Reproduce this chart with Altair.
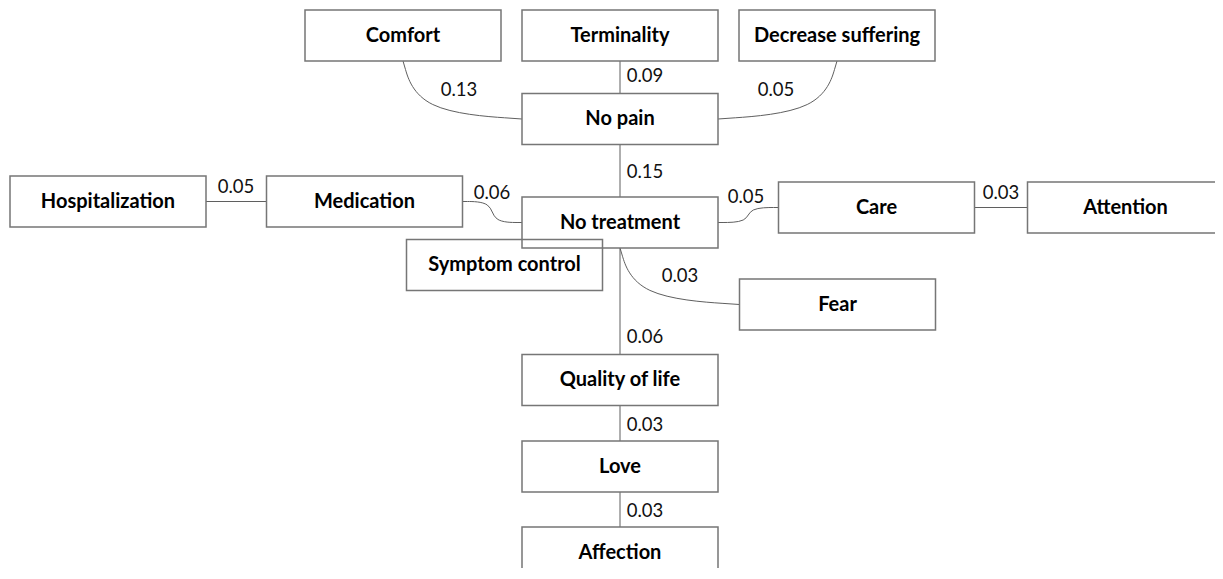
import altair as alt
import pandas as pd

# ---- data -------------------------------------------------------------
nodes = ["Comfort", "Terminality", "Decrease suffering", "No pain",
         "Hospitalization", "Medication", "No treatment", "Care", "Attention",
         "Symptom control", "Fear", "Quality of life", "Love", "Affection"]
# layout coordinates of node centres (pixel space of the reference)
node_x = [403, 620, 837, 620, 108, 364.5, 620, 876.5, 1125.5, 504.5, 837.5, 620, 620, 620]
node_y = [35.5, 35.5, 35.5, 119, 201.5, 201.5, 222.5, 207.5, 207.5, 265, 304.5, 380, 466.5, 552.5]

edge_source = ["Comfort", "Terminality", "Decrease suffering", "No pain",
               "Hospitalization", "Medication", "No treatment", "Care",
               "No treatment", "No treatment", "Quality of life", "Love"]
edge_target = ["No pain", "No pain", "No pain", "No treatment",
               "Medication", "No treatment", "Care", "Attention",
               "Fear", "Quality of life", "Love", "Affection"]
edge_weight = ["0.13", "0.09", "0.05", "0.15", "0.05", "0.06", "0.05", "0.03",
               "0.03", "0.06", "0.03", "0.03"]
edge_route = ["elbow", "straight", "elbow", "straight", "straight", "s", "s",
              "straight", "elbow", "straight", "straight", "straight"]
label_x = [459, 645, 776, 645, 236, 492, 746, 1001, 680, 645, 645, 645]
label_y = [90, 76, 90, 172, 187, 193, 197, 193, 276, 337, 425, 511]

# ---- geometry ---------------------------------------------------------
BOX_W, BOX_H = 196, 51
W, H = 1207, 560
X0, Y0 = 8, 8
pos = {n: (x, y) for n, x, y in zip(nodes, node_x, node_y)}


def edge_points(s, t, route):
    xs, ys = pos[s]
    xt, yt = pos[t]
    hw, hh = BOX_W / 2, BOX_H / 2
    if route == "straight":
        if abs(xs - xt) < 1:
            if yt > ys:
                return [(xs, ys + hh), (xt, yt - hh)]
            return [(xs, ys - hh), (xt, yt + hh)]
        if xt > xs:
            return [(xs + hw, ys), (xt - hw, yt)]
        return [(xs - hw, ys), (xt + hw, yt)]
    if route == "elbow":
        sy = ys + hh
        ex = xt - hw if xt > xs else xt + hw
        return [(xs, sy), (xs, yt), (ex, yt)]
    # "s" connector
    sx = xs + hw if xt > xs else xs - hw
    ex = xt - hw if xt > xs else xt + hw
    mid = (sx + ex) / 2
    return [(sx, ys), (mid, ys), (mid, yt), (ex, yt)]


rows = []
for i, (s, t, r) in enumerate(zip(edge_source, edge_target, edge_route)):
    for k, (px, py) in enumerate(edge_points(s, t, r)):
        rows.append({"edge": i, "k": k, "route": r, "x": px, "y": py})
edges_df = pd.DataFrame(rows)

boxes_df = pd.DataFrame({"name": nodes, "x": node_x, "y": node_y})
boxes_df["x0"] = boxes_df["x"] - BOX_W / 2
boxes_df["x1"] = boxes_df["x"] + BOX_W / 2
boxes_df["y0"] = boxes_df["y"] - BOX_H / 2
boxes_df["y1"] = boxes_df["y"] + BOX_H / 2

labels_df = pd.DataFrame({"w": edge_weight, "x": label_x, "y": label_y})

xs = alt.Scale(domain=[X0, X0 + W], nice=False, zero=False)
ys = alt.Scale(domain=[Y0, Y0 + H], nice=False, zero=False, reverse=True)

LINE_COLOR = "#5f5f5f"


def line_layer(route, interp, tension=None):
    kw = dict(color=LINE_COLOR, strokeWidth=1, interpolate=interp)
    if tension is not None:
        kw["tension"] = tension
    return alt.Chart(edges_df).transform_filter(
        alt.datum.route == route
    ).mark_line(**kw).encode(
        x=alt.X("x:Q", scale=xs, axis=None),
        y=alt.Y("y:Q", scale=ys, axis=None),
        detail="edge:N",
        order="k:Q",
    )


lines_straight = line_layer("straight", "linear")
lines_elbow = line_layer("elbow", "bundle", 0.75)
lines_s = line_layer("s", "basis")

boxes = alt.Chart(boxes_df).mark_rect(
    fill="white", fillOpacity=0, stroke="#767676", strokeWidth=1.5
).encode(
    x=alt.X("x0:Q", scale=xs, axis=None), x2="x1:Q",
    y=alt.Y("y0:Q", scale=ys, axis=None), y2="y1:Q",
)

box_text = alt.Chart(boxes_df).mark_text(
    font="Lato", fontSize=20, fontWeight="bold", color="#000000",
    align="center", baseline="middle"
).encode(
    x=alt.X("x:Q", scale=xs, axis=None),
    y=alt.Y("y:Q", scale=ys, axis=None),
    text="name:N",
)

edge_text = alt.Chart(labels_df).mark_text(
    font="Lato", fontSize=18.5, color="#111111",
    align="center", baseline="middle"
).encode(
    x=alt.X("x:Q", scale=xs, axis=None),
    y=alt.Y("y:Q", scale=ys, axis=None),
    text="w:N",
)

chart = alt.layer(
    lines_straight, lines_elbow, lines_s, boxes, box_text, edge_text
).properties(
    width=W, height=H,
    autosize=alt.AutoSizeParams(type="none"),
    padding=0,
    background="white",
).configure_view(strokeWidth=0)

chart.save("out.html", embed_options={"renderer": "svg", "actions": False})
